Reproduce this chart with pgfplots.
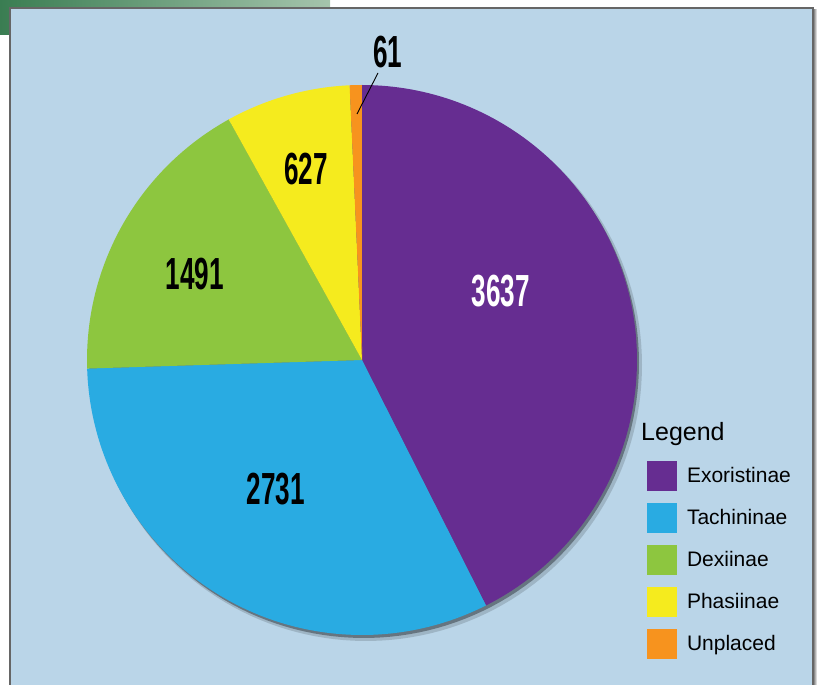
\documentclass[border=0pt]{standalone}
\usepackage{pgfplots}
\pgfplotsset{compat=1.18}
\usepackage{fontspec}
\setmainfont{Liberation Sans}
\definecolor{bgblue}{HTML}{BAD5E8}
\definecolor{exo}{HTML}{662D91}
\definecolor{tac}{HTML}{29ABE2}
\definecolor{dex}{HTML}{8DC63F}
\definecolor{pha}{HTML}{F5EB1E}
\definecolor{unp}{HTML}{F7931E}
\definecolor{hdr}{HTML}{3A7D52}
\definecolor{hdrlight}{HTML}{A5C4AC}
\newcommand\lbl[2][black]{\textcolor{#1}{\scalebox{0.58}[1]{\fontsize{45}{50}\selectfont\bfseries #2}}}
\begin{document}
\begin{tikzpicture}
% values
\def\vExo{3637}\def\vTac{2731}\def\vDex{1491}\def\vPha{627}\def\vUnp{61}
\pgfmathsetmacro\T{\vExo+\vTac+\vDex+\vPha+\vUnp}
\pgfmathsetmacro\aA{90}
\pgfmathsetmacro\aB{\aA-\vExo/\T*360}
\pgfmathsetmacro\aC{\aB-\vTac/\T*360}
\pgfmathsetmacro\aD{\aC-\vDex/\T*360}
\pgfmathsetmacro\aE{\aD-\vPha/\T*360}
\pgfmathsetmacro\aF{\aE-\vUnp/\T*360}
\begin{axis}[
  scale only axis, width=817pt, height=685pt,
  xmin=0, xmax=817, ymin=0, ymax=685,
  hide axis, clip=false,
  legend image code/.code={\fill[#1] (0pt,-15pt) rectangle (30pt,15pt);},
  legend style={at={(axis cs:647,224)}, anchor=north west, draw=none, fill=none,
    inner sep=0pt, outer sep=0pt, row sep=12pt,
    font=\fontsize{21}{24}\selectfont,
    nodes={inner sep=0pt},
    /tikz/every odd column/.append style={column sep=10pt}},
  legend cell align=left,
]
% header gradient and panel
\fill[left color=hdr, right color=hdrlight] (axis cs:0,685) rectangle (axis cs:330,650);
\fill[white] (axis cs:10,677) rectangle (axis cs:817,0);
\fill[left color=black!60, right color=white] (axis cs:813,675) rectangle (axis cs:817,0);
\fill[bgblue, draw=gray!80!black, line width=1.2pt] (axis cs:10,-5) rectangle (axis cs:813,677);
% pie shadow
\addplot[fill=black, draw=none, opacity=0.15, domain=0:360, samples=180, forget plot]
  ({366+276*cos(x)},{320+276*sin(x)});
\addplot[fill=black, draw=none, opacity=0.35, domain=0:360, samples=180, forget plot]
  ({364+275*cos(x)},{322+275*sin(x)});
% slices
\addplot[fill=exo, draw=none, domain=\aB:\aA, samples=120]
  ({362+275*cos(x)},{325+275*sin(x)}) -- (axis cs:362,325) -- cycle;
\addlegendentry{Exoristinae}
\addplot[fill=tac, draw=none, domain=\aC:\aB, samples=100]
  ({362+275*cos(x)},{325+275*sin(x)}) -- (axis cs:362,325) -- cycle;
\addlegendentry{Tachininae}
\addplot[fill=dex, draw=none, domain=\aD:\aC, samples=60]
  ({362+275*cos(x)},{325+275*sin(x)}) -- (axis cs:362,325) -- cycle;
\addlegendentry{Dexiinae}
\addplot[fill=pha, draw=none, domain=\aE:\aD, samples=30]
  ({362+275*cos(x)},{325+275*sin(x)}) -- (axis cs:362,325) -- cycle;
\addlegendentry{Phasiinae}
\addplot[fill=unp, draw=none, domain=\aF:\aE, samples=6]
  ({362+275*cos(x)},{325+275*sin(x)}) -- (axis cs:362,325) -- cycle;
\addlegendentry{Unplaced}
% labels
\node at (axis cs:501,394) {\lbl[white]{3637}};
\node at (axis cs:276,196) {\lbl{2731}};
\node at (axis cs:195,411) {\lbl{1491}};
\node at (axis cs:306,516) {\lbl{627}};
\node at (axis cs:388,633) {\lbl{61}};
\draw[line width=0.9pt] (axis cs:378,612) -- (axis cs:357,571);
\node[anchor=base west, inner sep=0pt] at (axis cs:641,244) {\fontsize{25}{28}\selectfont Legend};
\end{axis}
\pgfresetboundingbox
\path[use as bounding box] (0,0) rectangle (817pt,685pt);
\end{tikzpicture}
\end{document}
